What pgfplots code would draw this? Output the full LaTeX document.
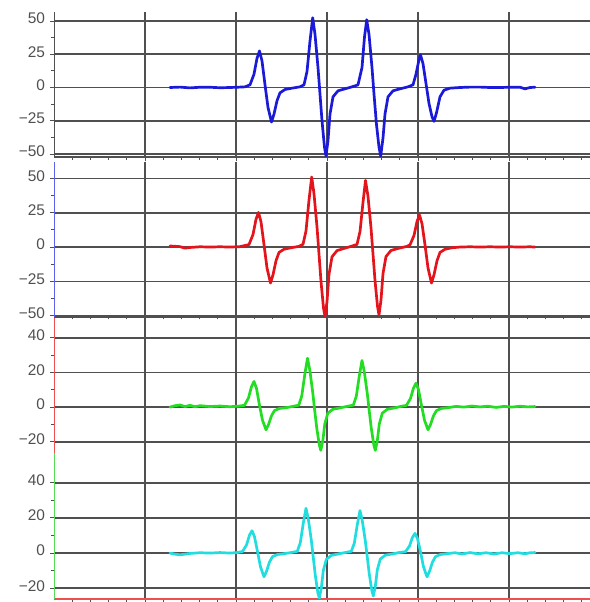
\documentclass[border=0pt]{standalone}
\usepackage{pgfplots}
\pgfplotsset{compat=1.18}
\usepackage{fontspec}
\setmainfont{Liberation Sans}
\definecolor{gridc}{HTML}{505050}
\definecolor{tlab}{HTML}{505050}
\definecolor{cblue}{HTML}{1A1AD8}
\definecolor{cred}{HTML}{E4141C}
\definecolor{cgreen}{HTML}{22DD22}
\definecolor{ccyan}{HTML}{22DDE0}
\definecolor{sblue}{HTML}{6060EE}
\definecolor{sred}{HTML}{EE5050}
\definecolor{sgreen}{HTML}{55DD55}
\pgfplotsset{panel/.style={
  scale only axis, width=536bp, xmin=54, xmax=590,
  axis x line*=bottom, axis y line*=left,
  xtick={145,236,327,418,509}, xticklabels={},
  minor xtick={72.2,90.4,108.5,126.7,163.2,181.4,199.6,217.8,254.2,272.4,290.6,308.8,345.2,363.4,381.6,399.8,436.2,454.4,472.6,490.8,527.2,545.4,563.6,581.8},
  grid=major, major grid style={gridc, line width=1.6bp},
  tick align=outside, major tick length=4bp, minor tick length=2.5bp,
  tick style={tlab, line width=0.9bp},
  minor y tick num=1,
  yticklabel style={font=\fontsize{15.5}{17}\selectfont, text=tlab, yshift=2.5bp, xshift=-1.5bp},
  anchor=south west, clip=true,
  every axis plot/.append style={line width=2.7bp, line join=round, line cap=round, no markers},
}}
\begin{document}
\begin{tikzpicture}
\useasboundingbox (0bp,0bp) rectangle (590bp,602bp);
% Panel 1 (blue)
\begin{axis}[panel, at={(54bp,444.7bp)}, height=145.3bp, ymin=-52.5, ymax=56.8,
  ytick={-50,-25,0,25,50}, yticklabels={−50,−25,0,25,50},
  y axis line style={gridc, line width=1bp}, x axis line style={gridc, line width=1.6bp}]
\addplot[cblue] coordinates {
(170,0) (180,0.3) (190,-0.3) (200,0.2) (210,0.2) (220,-0.2) (230,0) (240,0.3) (245,0.5)
(250,2) (254,10) (257,22) (259.5,27.5) (262,20) (265,2) (268,-15) (271.5,-26) (274,-20) (277,-10) (280,-4) (285,-1.5) (292,-0.5)
(300,0.5) (304,2) (307,12) (310,35) (312.7,52.5) (315,40) (318,15) (320,-5) (322,-25) (324.5,-45) (326,-51.5) (328,-40) (330,-20) (333,-7) (338,-2.5) (345,-1)
(352,0.5) (358,2) (362,15) (364.5,38) (366.7,51) (369,40) (372,15) (374,-5) (376.5,-28) (379,-45) (380.7,-51.5) (383,-38) (385,-20) (388,-7) (393,-2.5) (400,-1)
(408,0.5) (413,2) (416,10) (419,21) (420.5,24.5) (423,18) (426,3) (429,-12) (432,-22) (434,-25.5) (436.5,-19) (440,-7) (444,-2) (450,-0.5)
(460,0) (470,0.3) (480,0.3) (490,0) (500,0) (510,0.2) (520,0.2) (525,-1) (530,0) (535,0.2)};
\end{axis}
% Panel 2 (red)
\begin{axis}[panel, at={(54bp,285bp)}, height=155bp, ymin=-50.9, ymax=61.9,
  ytick={-50,-25,0,25,50}, yticklabels={−50,−25,0,25,50},
  y axis line style={sblue, line width=1bp}, x axis line style={gridc, line width=1.6bp}]
\addplot[cred] coordinates {
(170,0.8) (180,0.3) (185,-0.8) (190,-0.3) (200,0.2) (210,0) (220,0.2) (230,0) (240,0.3)
(249,1.8) (253,9.1) (256,20.2) (258.5,25.2) (261,18.4) (264,1.8) (267,-15.2) (270.5,-26.2) (273,-20.2) (276,-10) (279,-3.9) (284,-1.6) (291,-0.5)
(299,0.5) (303,2) (306,11.7) (309,34.2) (311.7,51) (314,38.8) (317,14.8) (319,-5.1) (321,-25) (323.5,-44.4) (325,-50.5) (327,-39.8) (329,-19.9) (332,-7.1) (337,-2.6) (344,-1)
(351,0.5) (357,1.9) (360,11.2) (363,32.5) (365.5,48.5) (368,36.9) (371,14.1) (373,-5) (375,-24.3) (377.5,-43.1) (379,-49.5) (381,-38.6) (383,-19.3) (386,-6.9) (391,-2.5) (398,-1)
(407,0.5) (410,1.6) (414,8.4) (417,18.6) (419.5,23.3) (422,17) (425,1.6) (428,-15.2) (431.5,-26.2) (434,-20.2) (437,-10) (440,-3.9) (445,-1.6) (452,-0.5)
(460,0) (470,0.2) (480,0) (490,0.2) (500,0) (510,0.2) (520,0) (530,0.2) (535,0)};
\end{axis}
% Panel 3 (green)
\begin{axis}[panel, at={(54bp,149bp)}, height=135bp, ymin=-26.5, ymax=51.4,
  ytick={-20,0,20,40}, yticklabels={−20,0,20,40},
  y axis line style={sred, line width=1bp}, x axis line style={draw=none}, xtick style={draw=none}]
\addplot[cgreen] coordinates {
(170,0) (175,0.8) (180,1.2) (185,0.3) (190,1) (195,0.2) (200,0.8) (210,0.3) (220,0.6) (230,0.2) (238,0.5)
(244.5,1) (248.5,5.3) (251.5,11.8) (254,14.8) (256.5,10.8) (259.5,1) (262.5,-7.6) (266,-13.1) (268.5,-10.1) (271.5,-5) (274.5,-2) (279.5,-0.8) (286.5,-0.3)
(293,0.4) (298.8,1.1) (301.8,6.5) (304.8,18.9) (307.5,28.2) (309.8,21.4) (312.8,8.2) (314.8,-2.5) (316.8,-12.3) (319.3,-21.8) (320.8,-25) (322.8,-19.5) (324.8,-9.8) (327.8,-3.5) (332.8,-1.3) (339.8,-0.5)
(347,0.4) (353.3,1.1) (356.3,6.2) (359.3,18) (362,26.9) (364.3,20.4) (367.3,7.8) (369.3,-2.5) (371.3,-12.3) (373.8,-21.8) (375.3,-25) (377.3,-19.5) (379.3,-9.8) (382.3,-3.5) (387.3,-1.3) (394.3,-0.5)
(401,0.4) (406.5,1) (410.5,5) (413.5,11) (416,13.8) (418.5,10.1) (421.5,1) (424.5,-7.6) (428,-13.1) (430.5,-10.1) (433.5,-5) (436.5,-2) (441.5,-0.8) (448.5,-0.3)
(456,0.4) (464,0) (472,0.6) (480,0.1) (488,0.5) (496,-0.2) (504,0.4) (512,0) (520,0.5) (528,0.1) (535,0.3)};
\end{axis}
% Panel 4 (cyan)
\begin{axis}[panel, at={(54bp,3bp)}, height=146bp, ymin=-26.1, ymax=56.9,
  ytick={-20,0,20,40}, yticklabels={−20,0,20,40},
  y axis line style={sgreen, line width=1bp}, x axis line style={sred, line width=1.6bp}]
\addplot[ccyan] coordinates {
(170,0) (175,-0.6) (180,-1) (185,-0.6) (190,-0.2) (200,0.2) (210,0) (220,0.3) (230,0) (237,0.3)
(242.5,0.9) (246.5,4.6) (249.5,10.2) (252,12.7) (254.5,9.3) (257.5,0.9) (260.5,-7.8) (264,-13.5) (266.5,-10.4) (269.5,-5.1) (272.5,-2) (277.5,-0.8) (284.5,-0.3)
(291,0.3) (297.3,1) (300.3,5.9) (303.3,17.1) (306,25.5) (308.3,19.4) (311.3,7.4) (313.3,-2.6) (315.3,-12.6) (317.8,-22.4) (319.3,-25.7) (321.3,-20) (323.3,-10) (326.3,-3.6) (331.3,-1.3) (338.3,-0.5)
(345,0.3) (351.3,1) (354.3,5.6) (357.3,16.2) (360,24.2) (362.3,18.4) (365.3,7) (367.3,-2.4) (369.3,-12) (371.8,-21.2) (373.3,-24.4) (375.3,-19) (377.3,-9.5) (380.3,-3.4) (385.3,-1.2) (392.3,-0.5)
(399,0.3) (405.5,0.8) (409.5,4) (412.5,9) (415,11.2) (417.5,8.2) (420.5,0.8) (423.5,-7.8) (427,-13.5) (429.5,-10.4) (432.5,-5.1) (435.5,-2) (440.5,-0.8) (447.5,-0.3)
(455,0.2) (462,-0.5) (470,0.3) (478,-0.4) (486,0.2) (494,-0.5) (502,0.2) (510,-0.3) (518,0.2) (525,-0.4) (530,0.2) (535,0.3)};
\end{axis}
\end{tikzpicture}
\end{document}
